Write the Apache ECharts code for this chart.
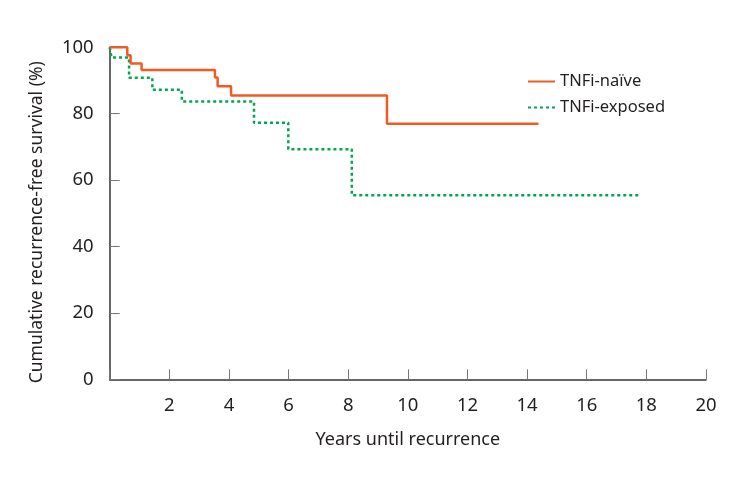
<!DOCTYPE html>
<html>
<head>
<meta charset="utf-8">
<script src="https://cdn.jsdelivr.net/npm/echarts@6/dist/echarts.min.js"></script>
<style>html,body{margin:0;padding:0;background:#fff}#c{width:750px;height:482px}</style>
</head>
<body>
<div id="c"></div>
<script>
// Kaplan-Meier steps (years, survival %)
const naiveTimes = [0, 0.59, 0.70, 1.07, 3.53, 3.62, 4.07, 9.30, 14.38];
const naiveSurv  = [100, 97.6, 95.1, 93.2, 90.9, 88.3, 85.5, 77.0, 77.0];
const exposedTimes = [0, 0.06, 0.65, 1.43, 2.42, 4.84, 5.99, 8.12, 17.74];
const exposedSurv  = [100, 96.9, 90.8, 87.2, 83.7, 77.3, 69.3, 55.4, 55.4];
const xTicks = [0, 2, 4, 6, 8, 10, 12, 14, 16, 18, 20];
const yTicks = [0, 20, 40, 60, 80, 100];
const seriesNames = ['TNFi-naïve', 'TNFi-exposed'];

const pair = (t, s) => t.map((v, i) => [v, s[i]]);
const font = '"Noto Sans", sans-serif';
const txt = '#231f20';

const chart = echarts.init(document.getElementById('c'), null, {renderer: 'canvas'});
chart.setOption({
  animation: false,
  backgroundColor: '#fff',
  grid: {left: 109.7, right: 44, top: 47.3, bottom: 102.7, containLabel: false},
  legend: {
    left: 527, top: 73, orient: 'vertical', padding: 0,
    itemWidth: 27, itemHeight: 14, itemGap: 9,
    itemStyle: {opacity: 0},
    textStyle: {fontFamily: font, fontSize: 16.5, color: txt},
    data: seriesNames
  },
  xAxis: {
    type: 'value', min: 0, max: 20, interval: 2,
    name: 'Years until recurrence', nameLocation: 'middle', nameGap: 52,
    nameTextStyle: {fontFamily: font, fontSize: 18, color: txt},
    axisLine: {show: true, lineStyle: {color: '#333', width: 1.5}},
    axisTick: {show: true, inside: true, length: 10, lineStyle: {color: '#777'}},
    axisLabel: {margin: 16.5, fontFamily: font, fontSize: 18.5, color: txt,
      formatter: v => (v === 0 ? '' : String(v))},
    splitLine: {show: false}
  },
  yAxis: {
    type: 'value', min: 0, max: 100, interval: 20,
    name: 'Cumulative recurrence-free survival (%)', nameLocation: 'middle', nameGap: 64,
    nameTextStyle: {fontFamily: font, fontSize: 17.5, color: txt, padding: [0, 18, 0, 0]},
    axisLine: {show: true, lineStyle: {color: '#333', width: 1.5}},
    axisTick: {show: true, inside: true, length: 10, lineStyle: {color: '#777'}},
    axisLabel: {margin: 16, fontFamily: font, fontSize: 18.5, color: txt, padding: [0, 0, 12, 0]},
    splitLine: {show: false}
  },
  series: [
    {
      name: seriesNames[0], type: 'line', step: 'end', symbol: 'none',
      data: pair(naiveTimes, naiveSurv),
      itemStyle: {color: '#f15a24'},
      lineStyle: {color: '#f15a24', width: 2.5, type: 'solid'},
      z: 3
    },
    {
      name: seriesNames[1], type: 'line', step: 'end', symbol: 'none',
      data: pair(exposedTimes, exposedSurv),
      itemStyle: {color: '#00a651'},
      lineStyle: {color: '#00a651', width: 2.5, type: [3, 3]},
      z: 2
    }
  ]
});
</script>
</body>
</html>
